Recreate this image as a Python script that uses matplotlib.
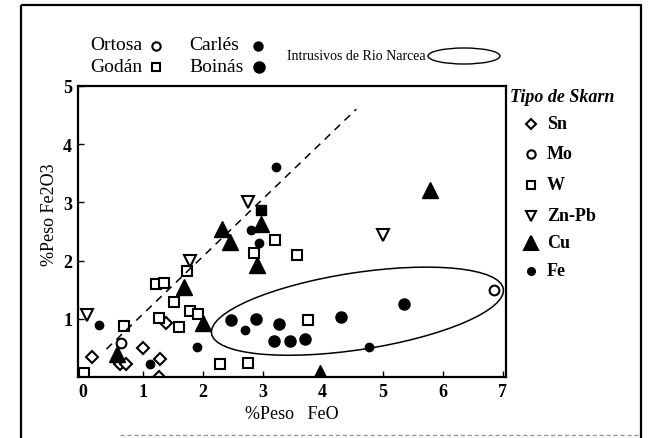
"""
FeO vs Fe2O3 in garnets from the Rio Narcea skarns, grouped by skarn type.
"""

import matplotlib
matplotlib.use("Agg")
import matplotlib.pyplot as plt
from matplotlib.patches import Ellipse, Rectangle

plt.rcParams["font.family"] = ["Liberation Serif", "DejaVu Serif"]

# Sn skarns (open diamonds)
sn_feo = [0.16, 0.62, 0.73, 1.00, 1.29, 1.28, 1.39]
sn_fe2o3 = [0.35, 0.23, 0.23, 0.49, 0.31, 0.00, 0.93]

# Mo skarns (open circles)
mo_feo = [0.64, 6.85]
mo_fe2o3 = [0.59, 1.50]

# W skarns (open squares, one filled)
w_feo = [0.02, 0.69, 1.22, 1.36, 1.53, 1.79, 1.93, 1.28, 1.60, 1.74,
         2.29, 2.75, 2.85, 3.21, 3.57, 3.75]
w_fe2o3 = [0.07, 0.87, 1.59, 1.62, 1.29, 1.13, 1.08, 1.02, 0.86, 1.82,
           0.22, 0.24, 2.13, 2.35, 2.10, 0.98]
w_filled_feo = [2.97]
w_filled_fe2o3 = [2.87]

# Zn-Pb skarns (open down triangles)
znpb_feo = [0.07, 1.79, 2.75, 5.00]
znpb_fe2o3 = [1.06, 1.99, 3.01, 2.44]

# Cu skarns (filled triangles)
cu_feo = [0.57, 1.69, 2.01, 2.32, 2.45, 2.97, 2.90, 3.96, 5.79]
cu_fe2o3 = [0.39, 1.55, 0.93, 2.54, 2.32, 2.63, 1.93, 0.07, 3.22]

# Fe skarns: Carlés (small dots) and Boinás (large dots)
fe_small_feo = [0.27, 1.12, 1.91, 2.70, 2.80, 2.94, 3.22, 4.78]
fe_small_fe2o3 = [0.89, 0.22, 0.52, 0.80, 2.52, 2.30, 3.60, 0.52]
fe_big_feo = [2.47, 2.89, 3.28, 3.19, 3.45, 3.71, 4.31, 5.36]
fe_big_fe2o3 = [0.98, 0.99, 0.91, 0.62, 0.62, 0.65, 1.03, 1.26]

# Trend line and Rio Narcea intrusives field
trend_feo = [0.40, 4.56]
trend_fe2o3 = [0.48, 4.60]
field_center = (4.58, 1.13)
field_width = 4.92
field_height = 1.32
field_angle = 9.0

x_ticks = [0, 1, 2, 3, 4, 5, 6, 7]
y_ticks = [1, 2, 3, 4, 5]

skarn_types = ["Sn", "Mo", "W", "Zn-Pb", "Cu", "Fe"]
deposits = ["Ortosa", "Godán", "Carlés", "Boinás"]

fig = plt.figure(figsize=(6.55, 4.39), dpi=100)
ax = fig.add_axes([0.1186, 0.139, 0.6535, 0.663])

open_kw = dict(linestyle="none", markerfacecolor="white", markeredgecolor="black",
               markeredgewidth=1.5)
ax.plot(sn_feo, sn_fe2o3, marker="D", markersize=6, **open_kw)
ax.plot(mo_feo, mo_fe2o3, marker="o", markersize=7, **open_kw)
ax.plot(w_feo, w_fe2o3, marker="s", markersize=7, **open_kw)
ax.plot(w_filled_feo, w_filled_fe2o3, marker="s", markersize=7, linestyle="none",
        color="black")
ax.plot(znpb_feo, znpb_fe2o3, marker="v", markersize=9, **open_kw)
ax.plot(cu_feo, cu_fe2o3, marker="^", markersize=12, linestyle="none", color="black")
ax.plot(fe_small_feo, fe_small_fe2o3, marker="o", markersize=6, linestyle="none",
        color="black")
ax.plot(fe_big_feo, fe_big_fe2o3, marker="o", markersize=8, linestyle="none",
        color="black")

ax.plot(trend_feo, trend_fe2o3, color="black", linewidth=1.1, linestyle=(0, (5, 4)))
ax.add_patch(Ellipse(field_center, field_width, field_height, angle=field_angle,
                     fill=False, edgecolor="black", linewidth=1.1))

ax.set_xlim(-0.08, 7.05)
ax.set_ylim(0, 4.97)
ax.set_xticks(x_ticks)
ax.set_yticks(y_ticks)
ax.tick_params(direction="in", length=4, width=1, pad=4)
for lab in ax.get_xticklabels() + ax.get_yticklabels():
    lab.set_fontsize(13)
    lab.set_fontweight("bold")
for sp in ax.spines.values():
    sp.set_linewidth(1.6)
ax.set_xlabel("%Peso   FeO", fontsize=13, labelpad=4)
ax.set_ylabel("%Peso Fe2O3", fontsize=13)
ax.yaxis.set_label_coords(-0.045, 0.56)

# overlay in pixel units for the frame and the legends
ov = fig.add_axes([0, 0, 1, 1], zorder=5)
ov.set_xlim(0, 655)
ov.set_ylim(439, 0)
ov.axis("off")
ov.patch.set_alpha(0)

ov.add_patch(Rectangle((21, 6), 620, 450, fill=False, edgecolor="black", linewidth=1.6))
ov.plot([120, 640], [436, 436], color="#999999", linewidth=1, linestyle=(0, (3, 2)))

# deposit legend
dep_pos = [(90, 46), (90, 67), (189, 46), (189, 67)]
dep_marker = [dict(marker="o", markersize=6, markerfacecolor="white"),
              dict(marker="s", markersize=6, markerfacecolor="white"),
              dict(marker="o", markersize=6, markerfacecolor="black"),
              dict(marker="o", markersize=7.5, markerfacecolor="black")]
dep_marker_x = [156, 156, 258, 259]
for name, (x, y), mk, mx in zip(deposits, dep_pos, dep_marker, dep_marker_x):
    ov.text(x, y, name, fontsize=14, ha="left", va="center")
    ov.plot([mx], [y + 1], linestyle="none", markeredgecolor="black",
            markeredgewidth=1.5, **mk)

ov.text(287, 57, "Intrusivos de Rio Narcea", fontsize=10, ha="left", va="center")
ov.add_patch(Ellipse((464, 57), 72, 16, fill=False, edgecolor="black", linewidth=1))

# skarn type legend
ov.text(510, 98, "Tipo de Skarn", fontsize=13, fontweight="bold", fontstyle="italic",
        ha="left", va="center")
key_y = [125, 155, 186, 217, 244, 272]
key_marker = [dict(marker="D", markersize=5, markerfacecolor="white"),
              dict(marker="o", markersize=6, markerfacecolor="white"),
              dict(marker="s", markersize=6, markerfacecolor="white"),
              dict(marker="v", markersize=7, markerfacecolor="white"),
              dict(marker="^", markersize=10, markerfacecolor="black"),
              dict(marker="o", markersize=5, markerfacecolor="black")]
for name, y, mk in zip(skarn_types, key_y, key_marker):
    ov.plot([531], [y], linestyle="none", markeredgecolor="black",
            markeredgewidth=1.5, **mk)
    ov.text(547, y, name, fontsize=13, fontweight="bold", ha="left", va="center")

fig.savefig("out.png", dpi=100)
